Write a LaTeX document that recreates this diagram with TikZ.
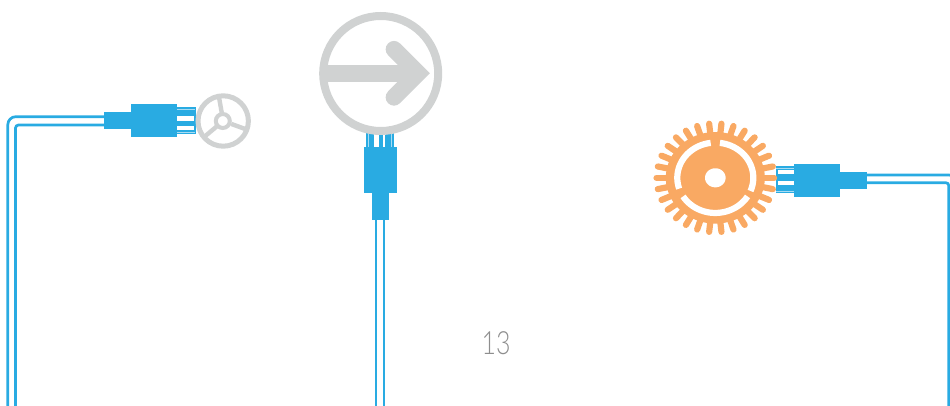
\documentclass[tikz,border=0pt]{standalone}
\usepackage{fontspec}
\setmainfont{Lato Light}
\definecolor{wireblue}{HTML}{29ABE2}
\definecolor{ringgrey}{HTML}{D0D2D2}
\definecolor{gearorange}{HTML}{F9A963}
\definecolor{numgrey}{HTML}{8E8E8E}
\definecolor{pinlight}{HTML}{A8DCF3}
\tikzset{
  part/.style={fill=wireblue,draw=none,inner sep=0pt,outer sep=0pt,rectangle},
  wire/.style={draw=wireblue,line width=2.7pt},
  ring/.style={draw=ringgrey,fill=none},
  cut/.style={fill=white,draw=none},
  gearcut/.style={draw=white,line width=6.2pt}
}
\newcommand{\boxat}[5]{\node[part,minimum width=#4-#2,minimum height=#5-#3,anchor=north west] (#1) at (#2,#3) {};}
\begin{document}
\begin{tikzpicture}[x=1pt,y=-1pt]
\useasboundingbox (0,0) rectangle (950,406);
% left wire
\coordinate (la) at (7.8,406);
\coordinate (lb) at (15.5,406);
\boxat{lpin}{177}{107}{195.5}{134.3}
\boxat{lbig}{131}{104}{177}{137}
\boxat{lsmall}{104}{111.7}{131}{129}
\fill[cut] (177,115.8) rectangle (194,120.8);
\fill[cut] (177,125.8) rectangle (194,129.6);
\draw[pinlight,line width=.8pt] (177,109.5) -- (195,109.5);
\draw[pinlight,line width=.8pt] (177,132) -- (195,132);
\draw[wire,rounded corners=8pt] (la) -- (7.8,116.7) -- (lsmall.west |- 0,116.7);
\draw[wire,rounded corners=3pt] (lb) -- (15.5,125) -- (lsmall.west |- 0,125);
% wheel
\begin{scope}[shift={(223.2,121)},x=1pt,y=1pt]
\fill[white] (0,0) circle (25);
\draw[ring,line width=5pt] (0,0) circle (25.2);
\draw[ring,line width=4pt] (-.4,0) circle (7);
\foreach \a in {100,220,340}
  \draw[ringgrey,line width=4.4pt] (\a:8.5) -- (\a:25);
\end{scope}
% middle plug
\boxat{mpin}{366}{130}{394}{147}
\fill[cut] (374.3,134.5) rectangle (379.3,147);
\fill[cut] (382.7,134.5) rectangle (385.3,147);
\draw[pinlight,line width=.8pt] (368.5,134) -- (368.5,147);
\draw[pinlight,line width=.8pt] (391.5,134) -- (391.5,147);
\boxat{mbig}{364}{147}{397}{192.7}
\boxat{msmall}{372}{192.7}{389}{220}
\coordinate (ma) at (376,406);
\coordinate (mb) at (384,406);
\draw[wire] (msmall.south -| ma) -- (ma);
\draw[wire] (msmall.south -| mb) -- (mb);
\fill[white] (380.7,73.5) circle (53.5);
\draw[ring,line width=8pt] (380.7,73.5) circle (57.5);
\fill[ringgrey] (325,65) rectangle (410,81.7);
\draw[ringgrey,line width=16.7pt,line cap=round,line join=miter,miter limit=10]
  (394,49.3) -- (418,73.3) -- (394,97.3);
% right plug
\boxat{rpin}{776}{166}{794}{193.3}
\fill[cut] (778,170) rectangle (794,174);
\fill[cut] (778,180.7) rectangle (794,185.2);
\draw[pinlight,line width=.8pt] (776,168) -- (794,168);
\draw[pinlight,line width=.8pt] (776,191) -- (794,191);
\boxat{rbig}{794}{164}{840}{196.7}
\boxat{rsmall}{840}{172}{867}{188.7}
\coordinate (ra) at (957,406);
\coordinate (rb) at (948.8,406);
\draw[wire,rounded corners=8pt] (rsmall.east |- 0,175) -- (957,175) -- (ra);
\draw[wire,rounded corners=3pt] (rsmall.east |- 0,182.7) -- (948.8,182.7) -- (rb);
% gear (slightly squashed vertically, as in the reference)
\begin{scope}[shift={(715.3,177.8)},x=1pt,y=.925pt]
\fill[gearorange] plot[domain=0:360,samples=121] ({49.5*cos(\x)},{49.5*sin(\x)}) -- cycle;
\foreach \k in {0,...,29}
  \draw[gearorange,line width=6.2pt,line cap=round] ({46*cos(12*\k)},{46*sin(12*\k)}) -- ({58.8*cos(12*\k)},{58.8*sin(12*\k)});
\draw[gearcut] plot[domain=83:-22,samples=50] ({38*cos(\x)},{38*sin(\x)});
\draw[gearcut] plot[domain=97:198,samples=50] ({38*cos(\x)},{38*sin(\x)});
\draw[gearcut] plot[domain=212:328,samples=50] ({38*cos(\x)},{38*sin(\x)});
\fill[white] plot[domain=0:360,samples=61] ({10.3*cos(\x)},{10.3*sin(\x)}) -- cycle;
\end{scope}
% page number
\node[text=numgrey,font=\fontsize{32}{32}\selectfont,inner sep=0pt] (pagenum) at (496,343) {\scalebox{.78}[1]{13}};
\end{tikzpicture}
\end{document}
